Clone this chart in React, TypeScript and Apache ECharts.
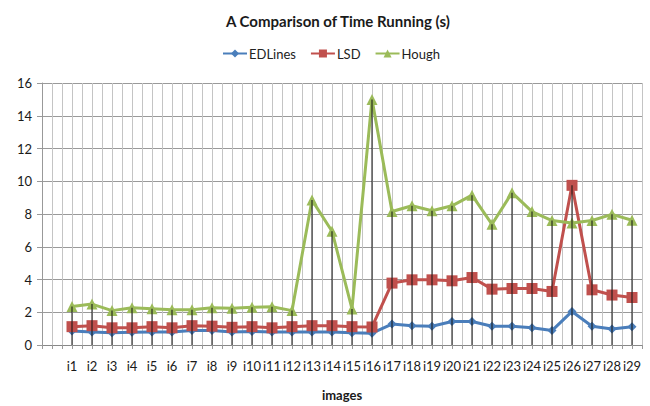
import React, { useEffect, useRef } from "react";
import * as echarts from "echarts";

const categories = ["i1","i2","i3","i4","i5","i6","i7","i8","i9","i10","i11","i12","i13","i14","i15","i16","i17","i18","i19","i20","i21","i22","i23","i24","i25","i26","i27","i28","i29"];
const edlines = [0.85,0.8,0.75,0.78,0.8,0.8,0.88,0.88,0.8,0.82,0.8,0.8,0.8,0.8,0.75,0.72,1.28,1.18,1.15,1.43,1.43,1.15,1.15,1.05,0.88,2.05,1.15,0.98,1.12];
const lsd = [1.12,1.18,1.05,1.05,1.12,1.05,1.18,1.15,1.08,1.12,1.05,1.12,1.18,1.18,1.12,1.1,3.78,3.98,3.98,3.92,4.12,3.41,3.45,3.45,3.27,9.75,3.37,3.05,2.9];
const hough = [2.35,2.5,2.1,2.28,2.22,2.15,2.15,2.28,2.25,2.3,2.33,2.1,8.85,6.95,2.2,15.0,8.15,8.5,8.2,8.5,9.15,7.37,9.3,8.15,7.6,7.45,7.6,7.98,7.62];
const yTicks = { min: 0, max: 16, interval: 2 };

const FONT = "Lato, 'Liberation Sans', sans-serif";

export default function App() {
  const ref = useRef<HTMLDivElement>(null);
  useEffect(() => {
    if (!ref.current) return;
    const chart = echarts.init(ref.current, null, { renderer: "svg" });
    const axisCats = ["", ...categories];
    const minorCats: string[] = [];
    axisCats.forEach((c, i) => { minorCats.push("a" + i, "b" + i); });
    const pad = (arr: number[]) => [null, ...arr];
    const drops = categories.map((_, i) => Math.max(edlines[i], lsd[i], hough[i]));
    chart.setOption({
      animation: false,
      textStyle: { fontFamily: FONT },
      title: {
        text: "A Comparison of Time Running (s)",
        left: 221,
        top: 8,
        textStyle: { fontSize: 15, fontWeight: "bold", color: "#1a1a1a", fontFamily: FONT },
      },
      legend: {
        top: 42,
        left: 217,
        itemWidth: 24,
        itemHeight: 10,
        itemGap: 14,
        data: ["EDLines", "LSD", "Hough"],
        textStyle: { fontSize: 13, color: "#222", fontFamily: FONT, padding: [0, 0, 0, -3] },
      },
      grid: { left: 42, right: 8, top: 83, bottom: 60, containLabel: false },
      xAxis: [
        {
          type: "category",
          data: axisCats,
          boundaryGap: true,
          axisLine: { show: true, lineStyle: { color: "#888", width: 1 } },
          axisTick: { show: false },
          splitLine: { show: false },
          axisLabel: { interval: 0, color: "#1a1a1a", fontSize: 13, margin: 14, fontFamily: FONT },
          name: "images",
          nameLocation: "middle",
          nameGap: 43,
          nameTextStyle: { fontWeight: "bold", fontSize: 13, color: "#1a1a1a", fontFamily: FONT },
        },
        {
          type: "category",
          data: minorCats,
          position: "bottom",
          boundaryGap: true,
          axisLine: { show: false },
          axisTick: { show: true, interval: 0, length: 4, lineStyle: { color: "#999" } },
          axisLabel: { show: false },
          splitLine: { show: true, interval: 0, lineStyle: { color: "#c4c4c4", width: 1 } },
        },
      ],
      yAxis: {
        type: "value",
        min: yTicks.min,
        max: yTicks.max,
        interval: yTicks.interval,
        axisLine: { show: true, lineStyle: { color: "#999" } },
        axisTick: { show: true, length: 5, lineStyle: { color: "#999" } },
        axisLabel: { color: "#1a1a1a", fontSize: 13, margin: 10, fontFamily: FONT },
        splitLine: { show: true, lineStyle: { color: "#9a9a9a", width: 1 } },
      },
      series: [
        {
          name: "EDLines",
          type: "line",
          data: pad(edlines),
          symbol: "diamond",
          symbolSize: 9,
          lineStyle: { color: "#4A7EBB", width: 3 },
          itemStyle: { color: "#4A7EBB" },
          z: 3,
        },
        {
          name: "LSD",
          type: "line",
          data: pad(lsd),
          symbol: "rect",
          symbolSize: 11,
          lineStyle: { color: "#C0504D", width: 3 },
          itemStyle: { color: "#C0504D" },
          z: 3,
        },
        {
          name: "Hough",
          type: "line",
          data: pad(hough),
          symbol: "triangle",
          symbolSize: 11,
          lineStyle: { color: "#9BBB59", width: 3 },
          itemStyle: { color: "#9BBB59" },
          z: 3,
        },
        {
          name: "drop",
          type: "bar",
          data: pad(drops),
          barWidth: 1,
          itemStyle: { color: "#111" },
          z: 4,
          silent: true,
        },
      ],
    });
    return () => chart.dispose();
  }, []);
  return <div ref={ref} style={{ width: 650, height: 406, position: "absolute", left: 0, top: 0 }} />;
}
